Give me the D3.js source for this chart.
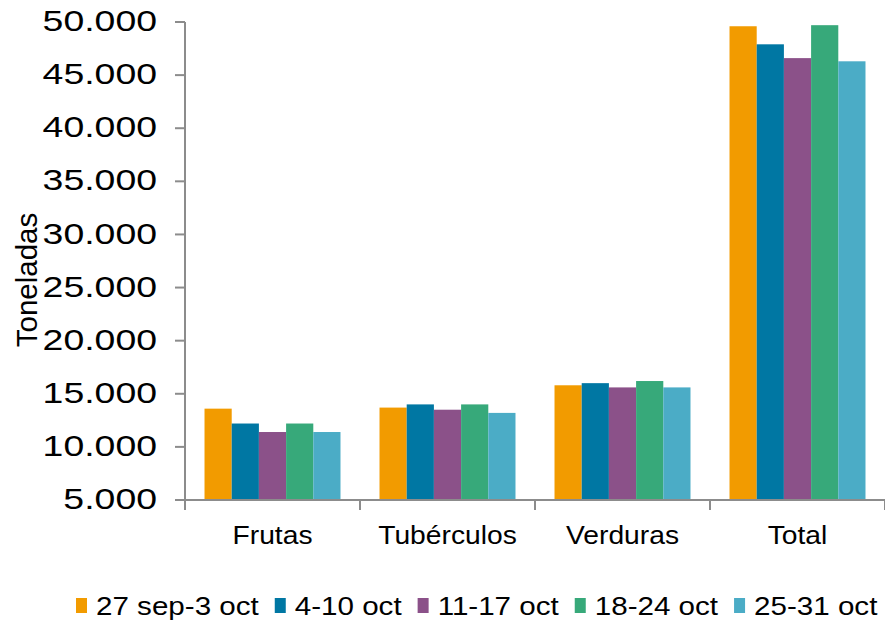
<!DOCTYPE html>
<html>
  <head>
    <meta charset="utf-8">
    <title>Toneladas por semana</title>
    <style>
      body { margin: 0; background: #fff; }
      svg { display: block; font-family: "Liberation Sans", Arial, sans-serif; }
    </style>
  </head>
  <body>
    <div id="chart"></div>
    <script src="https://cdn.jsdelivr.net/npm/d3@7"></script>
    <script>
      var categories = ['Frutas', 'Tubérculos', 'Verduras', 'Total'];
      var weeks = ['27 sep-3 oct', '4-10 oct', '11-17 oct', '18-24 oct', '25-31 oct'];
      var sep27 = [13600, 13700, 15800, 49600];
      var oct4 = [12200, 14000, 16000, 47900];
      var oct11 = [11400, 13500, 15600, 46600];
      var oct18 = [12200, 14000, 16200, 49700];
      var oct25 = [11400, 13200, 15600, 46300];
      var yTicks = [5000, 10000, 15000, 20000, 25000, 30000, 35000, 40000, 45000, 50000];

      (function(d3) {
        'use strict';
        var series = [sep27, oct4, oct11, oct18, oct25];
        var colors = ['#f29b00', '#0077a3', '#8b5189', '#37a97a', '#4bacc6'];
        var width = 885, height = 620;
        var left = 185, right = 885, top = 22, bottom = 500;
        var axisColor = '#8c8c8c';

        var svg = d3.select('#chart').append('svg')
          .attr('width', width)
          .attr('height', height);

        var x0 = d3.scaleBand().domain(categories).range([left, right])
          .paddingInner(0.223).paddingOuter(0.1115);
        var x1 = d3.scaleBand().domain(d3.range(weeks.length)).range([0, x0.bandwidth()]);
        var y = d3.scaleLinear().domain([5000, 50000]).range([bottom, top]);

        // bars
        var groups = svg.selectAll('g.cat')
          .data(categories)
          .enter().append('g')
          .attr('class', 'cat')
          .attr('transform', function(d) { return 'translate(' + x0(d) + ',0)'; });
        groups.selectAll('rect')
          .data(function(d, i) { return series.map(function(s, k) { return { k: k, v: s[i] }; }); })
          .enter().append('rect')
          .attr('x', function(d) { return x1(d.k); })
          .attr('width', x1.bandwidth())
          .attr('y', function(d) { return y(d.v); })
          .attr('height', function(d) { return bottom - y(d.v); })
          .attr('fill', function(d) { return colors[d.k]; });

        // y axis
        svg.append('line')
          .attr('x1', left).attr('x2', left).attr('y1', top).attr('y2', bottom)
          .attr('stroke', axisColor).attr('stroke-width', 2);
        svg.selectAll('line.ytick').data(yTicks).enter().append('line')
          .attr('class', 'ytick')
          .attr('x1', left - 10).attr('x2', left)
          .attr('y1', function(d) { return y(d); }).attr('y2', function(d) { return y(d); })
          .attr('stroke', axisColor).attr('stroke-width', 2);
        var fmt = function(d) { return d3.format(',')(d).replace(/,/g, '.'); };
        svg.selectAll('text.ylab').data(yTicks).enter().append('text')
          .attr('class', 'ylab')
          .attr('transform', function(d) { return 'translate(157,' + (y(d) - 1) + ') scale(1.29,1)'; })
          .attr('dy', '0.35em')
          .attr('text-anchor', 'end')
          .attr('font-size', 29)
          .attr('fill', '#000')
          .text(fmt);

        // x axis
        svg.append('line')
          .attr('x1', left - 10).attr('x2', right).attr('y1', bottom).attr('y2', bottom)
          .attr('stroke', axisColor).attr('stroke-width', 2);
        var bounds = categories.map(function(c) { return x0(c) - x0.step() * x0.paddingOuter(); });
        bounds.push(right);
        svg.selectAll('line.xtick').data(bounds).enter().append('line')
          .attr('class', 'xtick')
          .attr('x1', function(d) { return d; }).attr('x2', function(d) { return d; })
          .attr('y1', bottom).attr('y2', bottom + 10)
          .attr('stroke', axisColor).attr('stroke-width', 2);
        svg.selectAll('text.xlab').data(categories).enter().append('text')
          .attr('class', 'xlab')
          .attr('transform', function(d) { return 'translate(' + (x0(d) + x0.bandwidth() / 2) + ',544) scale(1.13,1)'; })
          .attr('text-anchor', 'middle')
          .attr('font-size', 25)
          .attr('fill', '#000')
          .text(function(d) { return d; });

        // y title
        svg.append('text')
          .attr('transform', 'translate(37,280) rotate(-90)')
          .attr('text-anchor', 'middle')
          .attr('font-size', 29.5)
          .attr('fill', '#000')
          .text('Toneladas');

        // legend
        var legend = svg.append('g');
        var lx = 76, ly = 606;
        weeks.forEach(function(w, k) {
          legend.append('rect')
            .attr('x', lx).attr('y', ly - 8).attr('width', 11).attr('height', 15)
            .attr('fill', colors[k]);
          var t = legend.append('text')
            .attr('transform', 'translate(' + (lx + 20) + ',' + ly + ') scale(1.16,1)')
            .attr('dy', '0.35em')
            .attr('font-size', 25.5)
            .attr('fill', '#000')
            .text(w);
          lx += 20 + t.node().getComputedTextLength() * 1.16 + 16;
        });
      })(window.d3);
    </script>
  </body>
</html>
